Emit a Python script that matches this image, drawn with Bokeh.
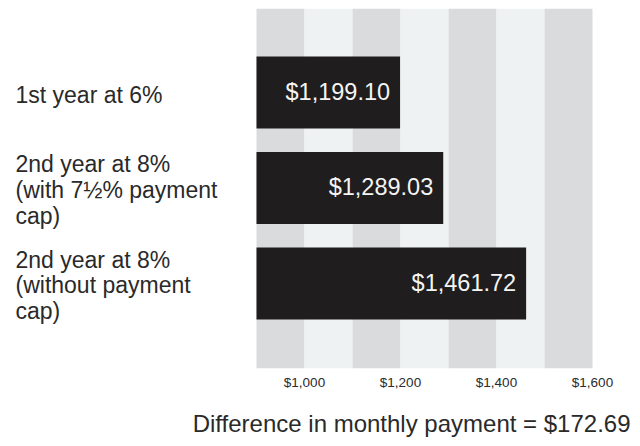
from bokeh.plotting import figure
from bokeh.models import ColumnDataSource, Range1d, FixedTicker, Title, NumeralTickFormatter
from bokeh.core.properties import value
from bokeh.embed import file_html
from bokeh.resources import INLINE

categories = ["1st year at 6%",
              "2nd year at 8%\n(with 7\u00bd% payment\ncap)",
              "2nd year at 8%\n(without payment\ncap)"]
payments = [1199.10, 1289.03, 1461.72]
payment_labels = ["$1,199.10", "$1,289.03", "$1,461.72"]
stripe_edges = [900, 1000, 1100, 1200, 1300, 1400, 1500, 1600]
tick_values = [1000, 1200, 1400, 1600]
difference_text = "Difference in monthly payment = $172.69"

FONT = "Liberation Sans"
W, H = 632, 438
TOP, BOTTOM = 8, 70
PX = 0.48                      # pixels per dollar
X0 = 900 - 256 / PX            # left edge of frame in data units
X1 = X0 + W / PX
FRAME_H = H - TOP - BOTTOM     # 360 px
PY = 95.5                      # pixels per category step
Y1 = 3 + 84 / PY
Y0 = Y1 - FRAME_H / PY

ypos = [len(categories) - i for i in range(len(categories))]
base = stripe_edges[0]

p = figure(width=W, height=H, output_backend="svg", toolbar_location=None,
           x_range=Range1d(X0, X1), y_range=Range1d(Y0, Y1),
           min_border_left=0, min_border_right=0, min_border_top=TOP,
           min_border_bottom=BOTTOM)
p.background_fill_color = "white"
p.border_fill_color = "white"
p.outline_line_color = None
p.xgrid.visible = False
p.ygrid.visible = False
p.yaxis.visible = False

# stripes
s_left = stripe_edges[:-1]
s_right = stripe_edges[1:]
s_col = ["#dadbdd" if i % 2 == 0 else "#eef2f3" for i in range(len(s_left))]
p.quad(left=s_left, right=s_right, bottom=Y0, top=Y1, fill_color=s_col, line_color=None)

# bars
src = ColumnDataSource(dict(y=ypos, right=payments, left=[base] * len(payments),
                            lab=payment_labels, cat=categories))
p.hbar(y="y", left="left", right="right", height=72 / PY, source=src,
       fill_color="#1f1d1e", line_color=None)
p.text(x="right", y="y", text="lab", source=src, x_offset=-10, y_offset=-1,
       text_align="right", text_baseline="middle", text_color="#f4f4f4",
       text_font=value(FONT), text_font_size="23.5px")

# category labels
p.text(x=X0 + 15 / PX, y="y", text="cat", source=src, y_offset=2,
       text_align="left", text_baseline="middle", text_color="#2a2a2a",
       text_font=value(FONT), text_font_size="23px", text_line_height=0.985)

ax = p.xaxis[0]
ax.ticker = FixedTicker(ticks=tick_values)
ax.formatter = NumeralTickFormatter(format="$0,0")
ax.axis_line_color = None
ax.major_tick_line_color = None
ax.minor_tick_line_color = None
ax.major_tick_out = 0
ax.major_tick_in = 0
ax.major_label_standoff = 6
ax.major_label_text_font = FONT
ax.major_label_text_font_size = "13.5px"
ax.major_label_text_color = "#2a2a2a"

# leading empty line pushes the caption towards the bottom edge of the figure
t = Title(text="\n" + difference_text, align="right", vertical_align="bottom", offset=2,
          standoff=0, text_font=FONT, text_font_size="24px", text_font_style="normal",
          text_color="#2a2a2a", text_line_height=0.6)
p.add_layout(t, "below")

open("out.html", "w").write(file_html(p, INLINE))
